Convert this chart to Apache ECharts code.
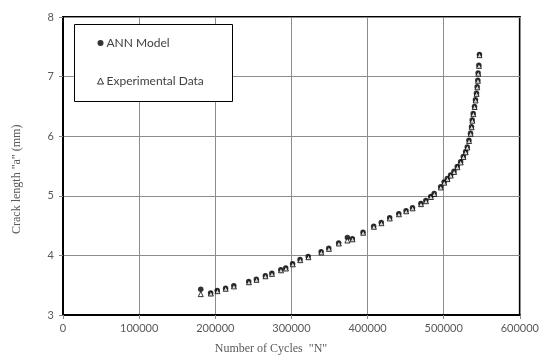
<!DOCTYPE html>
<html>
<head>
<meta charset="utf-8">
<script src="https://cdn.jsdelivr.net/npm/echarts@6/dist/echarts.min.js"></script>
<style>html,body{margin:0;padding:0;background:#fff}#c{width:542px;height:358px}</style>
</head>
<body>
<div id="c"></div>
<script>
var annCycles = [180900,193900,202600,213500,224300,243900,253900,265700,274300,286000,292500,301500,311300,322000,339000,349000,362000,373500,380000,394000,408000,418000,429000,441000,450500,459000,470000,476500,483000,487500,496000,500500,504800,509100,513500,517800,522200,525700,528700,530900,533100,535200,536500,537400,538700,540400,541700,543000,543900,544800,545200,546100,546900];
var annCrack = [3.43,3.37,3.41,3.45,3.49,3.56,3.60,3.66,3.70,3.76,3.79,3.86,3.93,3.98,4.06,4.12,4.21,4.30,4.28,4.39,4.49,4.55,4.63,4.70,4.75,4.80,4.87,4.92,4.99,5.04,5.15,5.23,5.29,5.35,5.41,5.49,5.57,5.66,5.74,5.82,5.93,6.05,6.16,6.27,6.38,6.50,6.61,6.72,6.83,6.94,7.06,7.19,7.37];
var expCycles = [180900,194200,202800,213700,224500,244200,254200,265900,274500,286300,292800,301800,311600,322300,339300,349300,362300,373500,380300,394200,408300,418200,429200,441200,450700,459200,470200,476700,483200,487700,496200,500700,505000,509300,513700,518000,522400,525900,528900,531100,533300,535400,536700,537600,538900,540600,541900,543200,544100,545000,545400,546300,547000];
var expCrack = [3.35,3.36,3.40,3.44,3.48,3.55,3.59,3.65,3.69,3.75,3.78,3.85,3.92,3.97,4.05,4.11,4.20,4.25,4.27,4.38,4.48,4.54,4.62,4.69,4.74,4.79,4.86,4.91,4.98,5.03,5.14,5.22,5.28,5.34,5.40,5.48,5.56,5.65,5.73,5.81,5.92,6.04,6.15,6.26,6.37,6.49,6.60,6.71,6.82,6.93,7.05,7.18,7.36];
var xTicks = [0,100000,200000,300000,400000,500000,600000];
var yTicks = [3,4,5,6,7,8];

function pairs(xs, ys){ return xs.map(function(x,i){ return [x, ys[i]]; }); }

var chart = echarts.init(document.getElementById('c'), null, {renderer:'canvas'});
chart.setOption({
  animation: false,
  backgroundColor: '#fff',
  grid: {left:63, right:19, top:17, bottom:43, show:true, borderColor:'#000', borderWidth:2, backgroundColor:'transparent'},
  xAxis: {
    type:'value', min:xTicks[0], max:xTicks[xTicks.length-1], interval:100000,
    axisLine:{show:true, lineStyle:{color:'#000', width:2}},
    axisTick:{show:true, inside:false, length:4, lineStyle:{color:'#888'}},
    axisLabel:{color:'#595959', fontFamily:'Lato', fontSize:11, margin:8, formatter:function(v){return String(v);}},
    splitLine:{show:true, lineStyle:{color:'#8c8c8c', width:1}}
  },
  yAxis: {
    type:'value', min:yTicks[0], max:yTicks[yTicks.length-1], interval:1,
    axisLine:{show:true, lineStyle:{color:'#000', width:2}},
    axisTick:{show:true, inside:false, length:4, lineStyle:{color:'#888'}},
    axisLabel:{color:'#595959', fontFamily:'Lato', fontSize:11, margin:9},
    splitLine:{show:true, lineStyle:{color:'#8c8c8c', width:1}}
  },
  legend: {
    left:92, top:32, orient:'vertical', itemGap:26, itemWidth:6, itemHeight:6,
    textStyle:{color:'#404040', fontFamily:'Lato', fontSize:12, padding:[0,0,0,-2]},
    z: 10,
    data:[{name:'ANN Model', icon:'circle'}, {name:'Experimental Data', icon:'triangle', itemStyle:{color:'#fff', borderColor:'#000', borderWidth:1}}]
  },
  graphic: [
    {type:'rect', left:74, top:24, z:9, shape:{width:158, height:77}, style:{fill:'#fff', stroke:'#000', lineWidth:1}},
    {type:'text', left:'center', top:343, style:{text:'Number of Cycles  "N"', fill:'#595959', font:'12px "Liberation Serif", serif'}, x:30},
    {type:'text', rotation:Math.PI/2, x:11, y:234, style:{text:'Crack length "a" (mm)', fill:'#595959', font:'12px "Liberation Serif", serif'}}
  ],
  series: [
    {name:'ANN Model', type:'scatter', symbol:'circle', symbolSize:5.5, itemStyle:{color:'#000'}, data:pairs(annCycles, annCrack), z:2},
    {name:'Experimental Data', type:'scatter', symbol:'triangle', symbolSize:5, itemStyle:{color:'#fff', borderColor:'#000', borderWidth:1}, data:pairs(expCycles, expCrack), z:3}
  ]
});
</script>
</body>
</html>
